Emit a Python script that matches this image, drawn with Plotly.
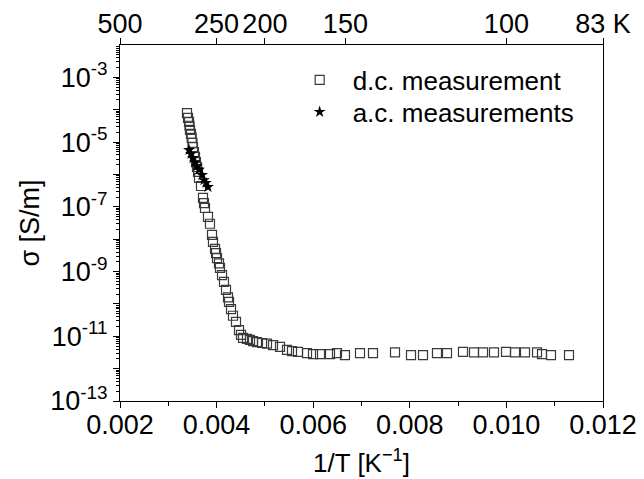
import plotly.graph_objects as go

# d.c. measurement: 1/T [1/K] and conductivity [S/m]
dc_invT = [0.003387, 0.003408, 0.003429, 0.003439, 0.003449, 0.003470, 0.003484, 0.003501,
           0.003511, 0.003532, 0.003553, 0.003573, 0.003594, 0.003615, 0.003636, 0.003677,
           0.003718, 0.003739, 0.003760, 0.003822, 0.003863, 0.003905, 0.003925, 0.003967,
           0.003988, 0.004008, 0.004050, 0.004070, 0.004112, 0.004153, 0.004195, 0.004236,
           0.004257, 0.004298, 0.004340, 0.004402, 0.004464, 0.004505,
           0.004547, 0.004629, 0.004692, 0.004754, 0.004836, 0.004940, 0.005043, 0.005168,
           0.005313, 0.005458, 0.005561, 0.005685, 0.005872, 0.005996, 0.006141, 0.006348,
           0.006493, 0.006658, 0.006969, 0.007238, 0.007694, 0.008025, 0.008273, 0.008563,
           0.008770, 0.009101, 0.009329, 0.009516, 0.009743, 0.009992, 0.010178, 0.010385,
           0.010634, 0.010737, 0.010923, 0.011296]
dc_sigma = [7.9e-5, 5.6e-5, 4.2e-5, 3.2e-5, 2.4e-5, 1.8e-5, 1.35e-5, 9.4e-6,
            7.0e-6, 4.9e-6, 3.5e-6, 2.4e-6, 1.7e-6, 1.2e-6, 7.8e-7, 4.4e-7,
            1.9e-7, 1.3e-7, 9.2e-8, 4.9e-8, 3.0e-8, 1.35e-8, 8.2e-9, 5.0e-9,
            3.7e-9, 2.6e-9, 1.8e-9, 1.3e-9, 7.8e-10, 4.8e-10, 2.7e-10, 1.6e-10,
            1.15e-10, 6.9e-11, 4.3e-11, 2.8e-11, 1.55e-11, 1.1e-11,
            8.9e-12, 8.3e-12, 7.7e-12, 7.1e-12, 6.6e-12, 6.2e-12, 5.9e-12, 5.3e-12,
            4.7e-12, 3.8e-12, 3.5e-12, 3.3e-12, 3.0e-12, 2.8e-12, 2.8e-12, 2.8e-12,
            3.0e-12, 2.6e-12, 3.0e-12, 3.0e-12, 3.2e-12, 2.6e-12, 2.6e-12, 3.0e-12,
            3.0e-12, 3.3e-12, 3.2e-12, 3.2e-12, 3.2e-12, 3.3e-12, 3.2e-12, 3.2e-12,
            3.2e-12, 2.8e-12, 2.6e-12, 2.6e-12]

# a.c. measurements
ac_invT = [0.003429, 0.003470, 0.003511, 0.003553, 0.003594, 0.003636, 0.003698,
           0.003739, 0.003780, 0.003822]
ac_sigma = [5.7e-6, 4.3e-6, 3.2e-6, 2.4e-6, 1.8e-6, 1.4e-6, 9.6e-7,
            6.7e-7, 5.5e-7, 4.1e-7]

# top axis temperatures [K]
top_T = [500, 250, 200, 150, 100, 83]
top_labels = ["500", "250", "200", "150", "100", "83 K"]

# y ticks (decades)
y_exps = list(range(-13, -2))
y_range = [-13, -2]
x_range = [0.002, 0.012]

font_family = "Liberation Sans, Arial, sans-serif"

fig = go.Figure()
fig.add_trace(go.Scatter(
    x=dc_invT, y=dc_sigma, mode="markers", name="d.c. measurement", legend="legend",
    marker=dict(symbol="square-open", size=9, color="#3a3a3a", line=dict(width=1.2)),
))
fig.add_trace(go.Scatter(
    x=ac_invT, y=ac_sigma, mode="markers", name="a.c. measurements", legend="legend2",
    marker=dict(symbol="star", size=9, color="black"),
))
# empty traces hosting the top axis and the minor-tick axis
fig.add_trace(go.Scatter(x=[], y=[], xaxis="x2", yaxis="y", showlegend=False, hoverinfo="skip"))
fig.add_trace(go.Scatter(x=[], y=[], xaxis="x", yaxis="y2", showlegend=False, hoverinfo="skip"))

tick_vals = [10.0 ** e for e in y_exps]
tick_text = [f"10<sup>{e}</sup>" if e % 2 != 0 else "" for e in y_exps]
minor_vals = [k * 10.0 ** e for e in y_exps for k in range(2, 10)]

legend_common = dict(x=0.345, xanchor="left", yanchor="middle",
                     bgcolor="rgba(0,0,0,0)", font=dict(size=26), itemsizing="trace",
                     itemwidth=56, borderwidth=0)

fig.update_layout(
    width=636, height=471,
    margin=dict(l=112, r=41, t=37, b=78),
    paper_bgcolor="white", plot_bgcolor="white",
    font=dict(family=font_family, size=27, color="black"),
    showlegend=True,
    legend=dict(y=0.902, **legend_common),
    legend2=dict(y=0.812, **legend_common),
    xaxis=dict(
        range=x_range, dtick=0.002, tick0=0.002, tickformat=".3f",
        ticks="outside", ticklen=6, tickwidth=1, tickcolor="black",
        showline=True, linecolor="black", linewidth=1, mirror=False,
        showgrid=False, zeroline=False, automargin=False, ticklabelstandoff=-6,
        minor=dict(ticks="outside", ticklen=4, dtick=0.001, tick0=0.002, tickcolor="black", showgrid=False),
        title=dict(text="1/T [K<sup>\u22121</sup>]", font=dict(size=26), standoff=14),
    ),
    xaxis2=dict(
        overlaying="x", side="top", anchor="y", range=x_range,
        tickmode="array",
        tickvals=[min(1.0 / t, x_range[1]) for t in top_T], ticktext=top_labels,
        ticks="outside", ticklen=6, tickcolor="black",
        showline=True, linecolor="black", linewidth=1,
        showgrid=False, zeroline=False, automargin=False, ticklabelstandoff=-6,
    ),
    yaxis=dict(
        type="log", range=y_range,
        tickmode="array", tickvals=tick_vals, ticktext=tick_text,
        ticks="outside", ticklen=6, tickcolor="black",
        showline=True, linecolor="black", linewidth=1, mirror=True,
        showgrid=False, zeroline=False, automargin=False,
        title=dict(text="\u03c3 [S/m]", font=dict(size=27), standoff=2),
    ),
    yaxis2=dict(
        type="log", range=y_range, overlaying="y", side="left", anchor="x",
        tickmode="array", tickvals=minor_vals, ticktext=["" for _ in minor_vals],
        ticks="outside", ticklen=3, tickcolor="black", showticklabels=False,
        showline=False, showgrid=False, zeroline=False, automargin=False,
    ),
)

fig.write_html("out.html")
